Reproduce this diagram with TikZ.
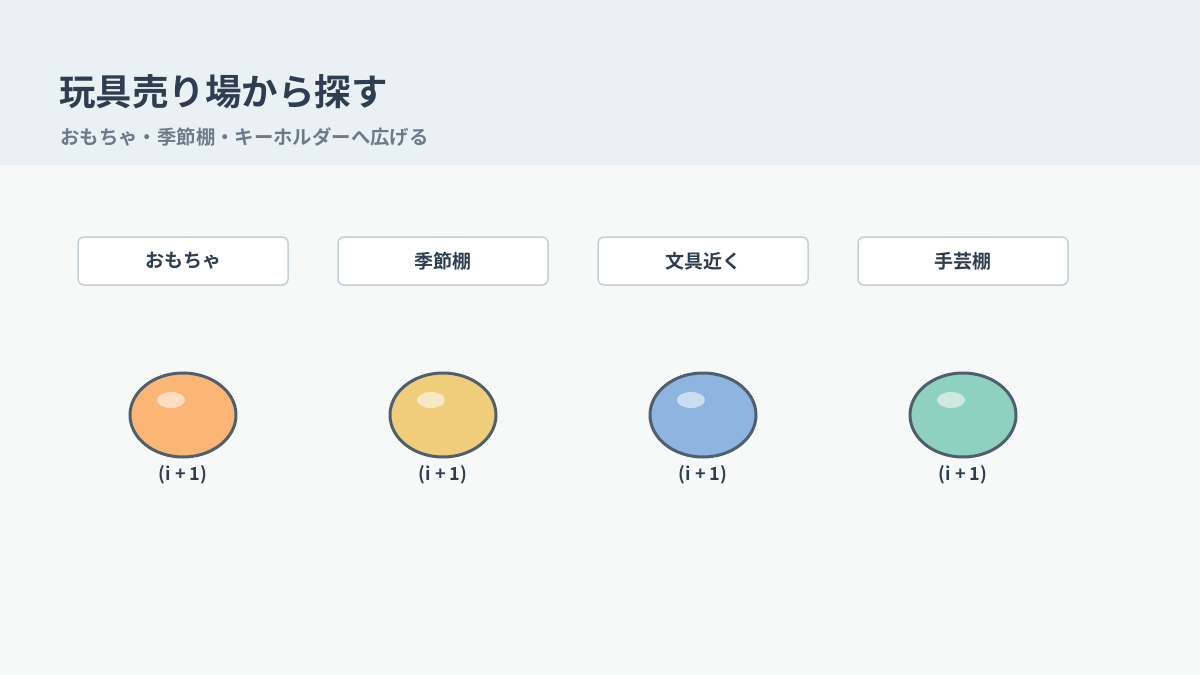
\documentclass[tikz,border=0pt]{standalone}
\usepackage{fontspec}
\setmainfont{Noto Sans CJK JP}
\newfontfamily\jpbold{Noto Sans CJK JP Bold}
\definecolor{headbg}{HTML}{EAF1F4}
\definecolor{pagebg}{HTML}{F7F9F9}
\definecolor{ink}{HTML}{2C3E50}
\definecolor{subink}{HTML}{6B7B8A}
\definecolor{boxline}{HTML}{C5D0D6}
\definecolor{ballline}{HTML}{4F5F6D}
\definecolor{ballA}{HTML}{FBB574}
\definecolor{ballB}{HTML}{EFCD7B}
\definecolor{ballC}{HTML}{8DB5E0}
\definecolor{ballD}{HTML}{8ED1C0}
\tikzset{
  shelf/.style={draw=boxline, line width=1.5pt, fill=white, rounded corners=6pt,
    minimum width=210pt, minimum height=48pt, font=\jpbold\fontsize{19pt}{22pt}\selectfont, text=ink},
  ball/.style={draw=ballline, line width=3pt, ellipse, minimum width=106pt, minimum height=84pt, inner sep=0pt},
  ballno/.style={font=\jpbold\fontsize{18pt}{21pt}\selectfont, text=ink},
}
\usetikzlibrary{shapes.geometric}
\begin{document}
\begin{tikzpicture}[x=1pt, y=-1pt, line join=round]
            \useasboundingbox (0,0) rectangle (1200,675);
            \fill[pagebg] (0,0) rectangle (1200,675);
            \fill[headbg] (0,0) rectangle (1200,165);
            % title
            \node[anchor=base west, inner sep=0pt, text=ink, font=\jpbold\fontsize{36.5pt}{42pt}\selectfont]
              (title) at (59,105) {玩具売り場から探す};
            \node[anchor=base west, inner sep=0pt, text=subink, font=\jpbold\fontsize{19.4pt}{23pt}\selectfont]
              (subtitle) at (60,144) {おもちゃ・季節棚・キーホルダーへ広げる};
            % shelves and balls
            \foreach \i/\cx/\lbl/\col in {1/183/おもちゃ/ballA, 2/443/季節棚/ballB, 3/703/文具近く/ballC, 4/963/手芸棚/ballD}{
              \node[shelf] (shelf\i) at (\cx,261) {\lbl};
              \node[ball, fill=\col] (ball\i) at (\cx,415) {};
              \fill[white, opacity=.55] (\cx-12,400) ellipse (14 and 8);
              \node[ballno] (no\i) at (\cx,475) {(i + 1)};
            }
        \end{tikzpicture}
\end{document}
